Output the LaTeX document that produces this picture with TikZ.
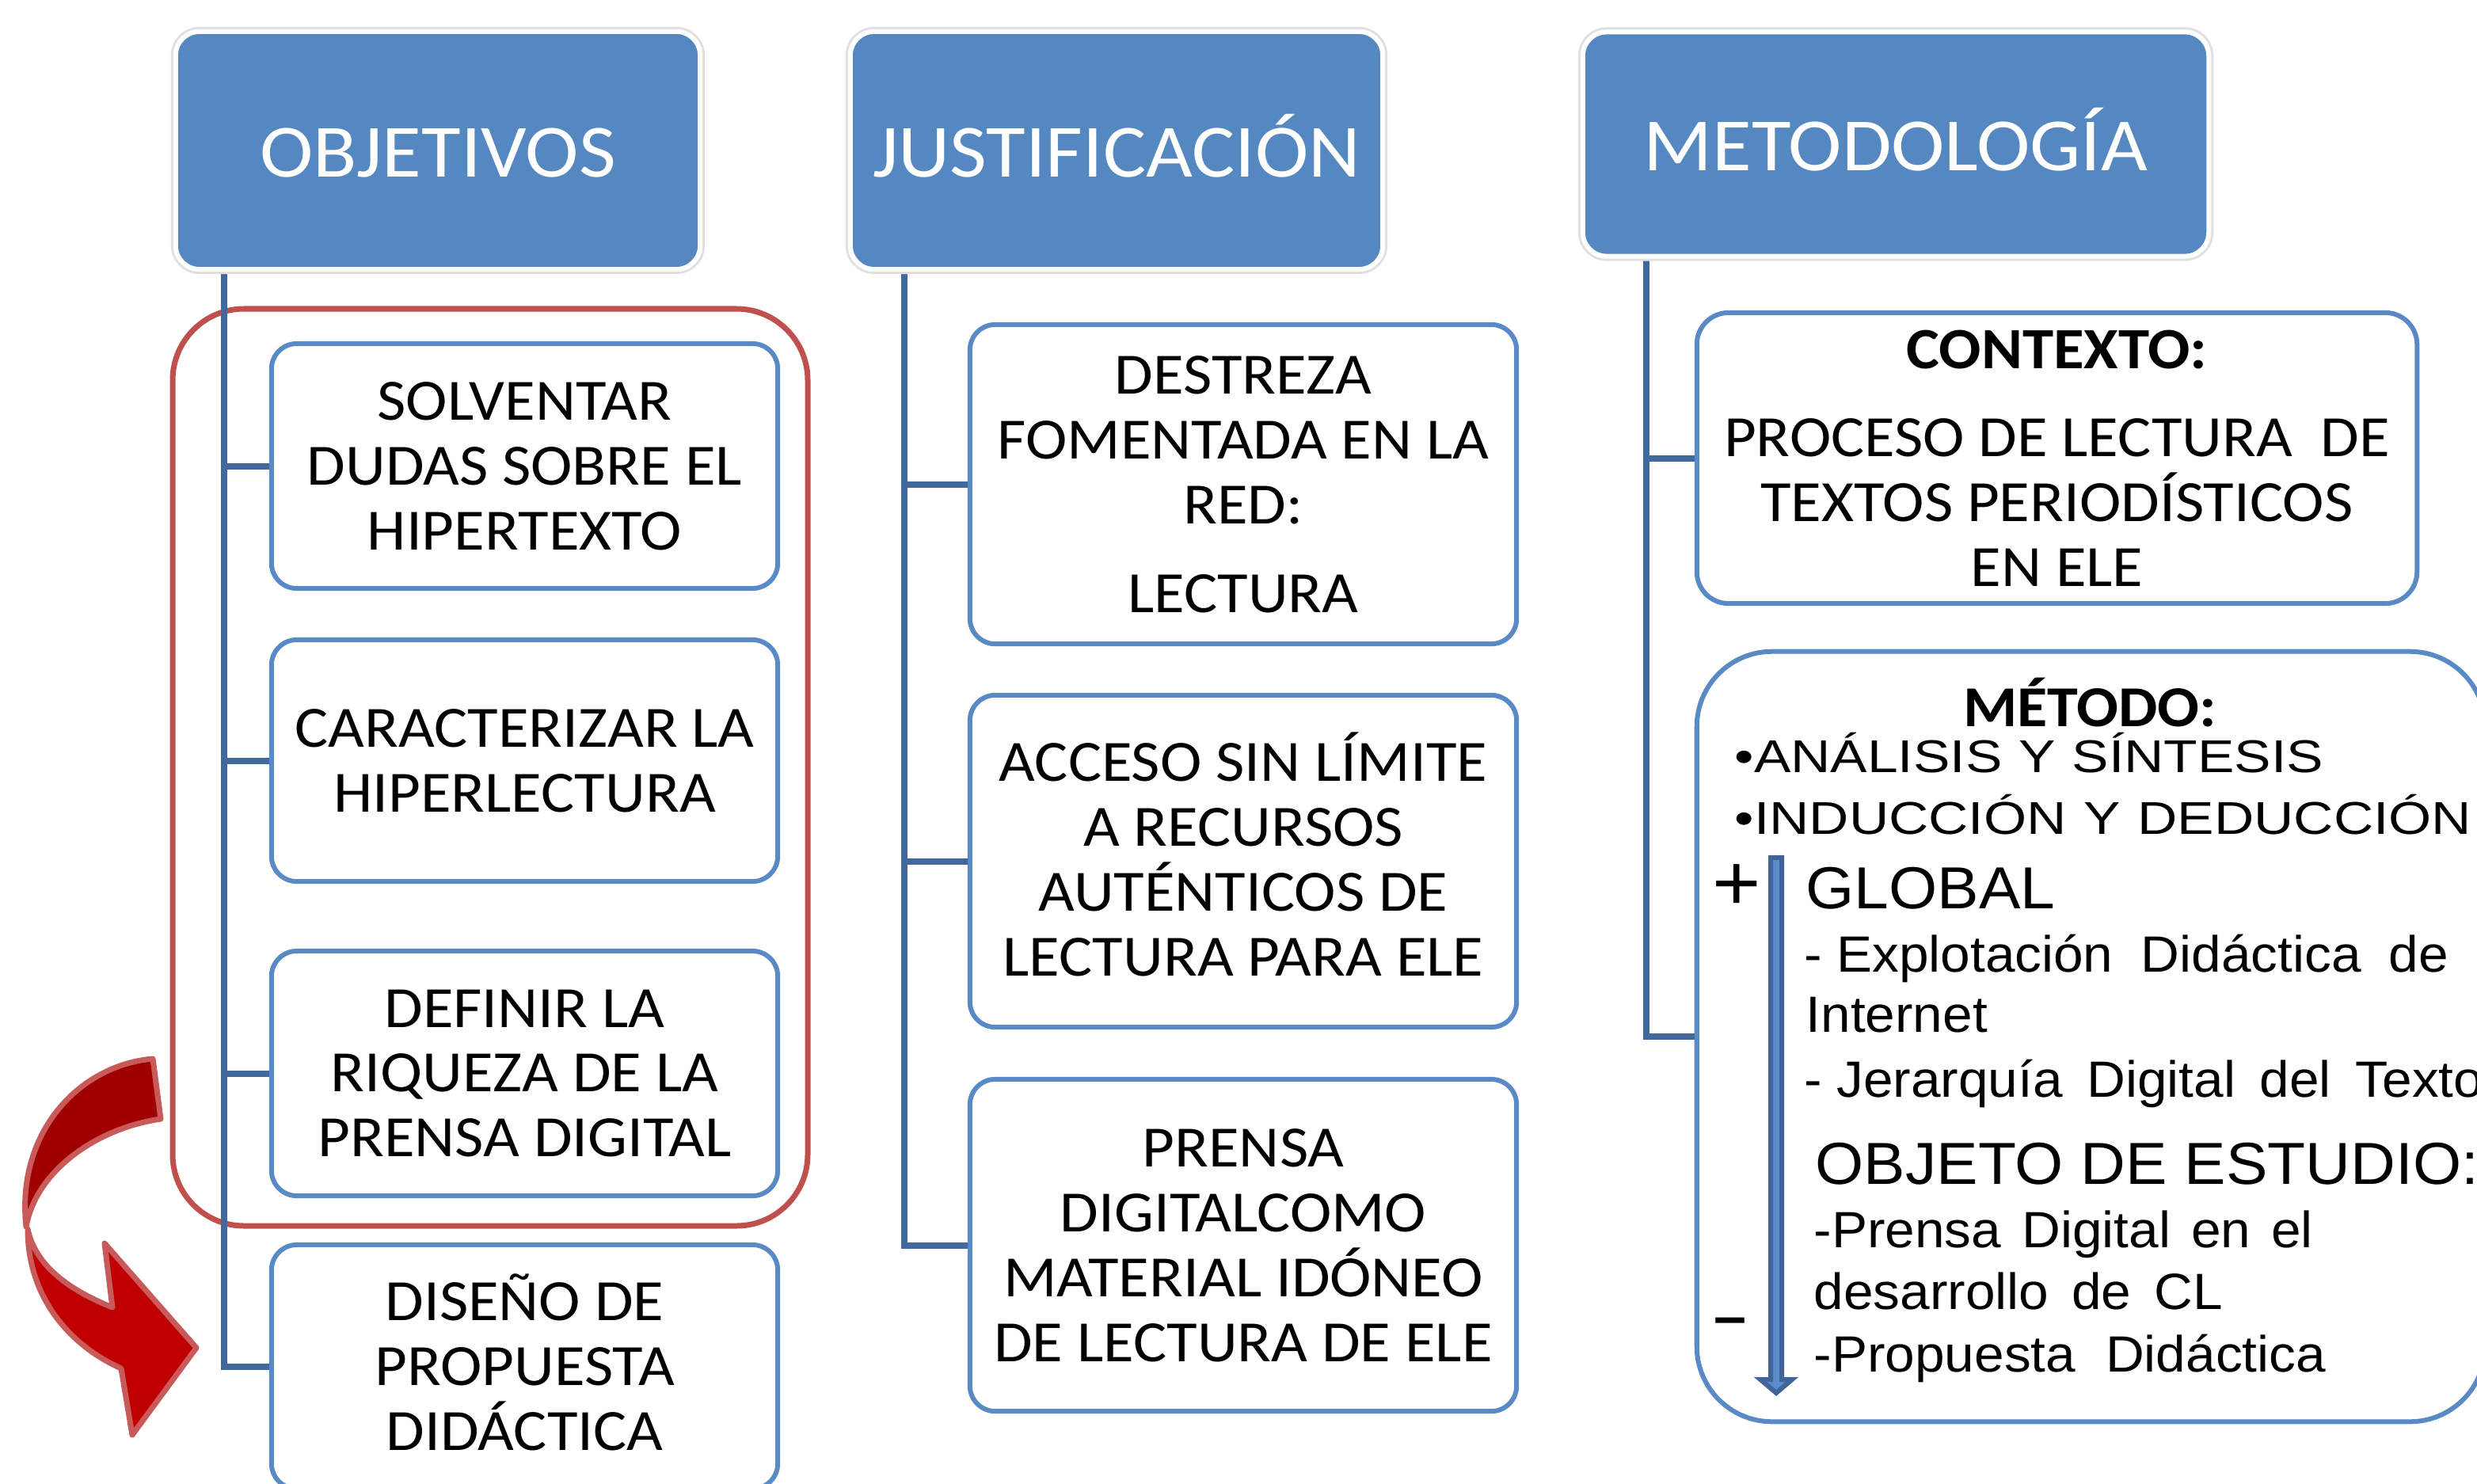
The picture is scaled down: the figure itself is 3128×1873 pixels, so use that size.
\documentclass[tikz,border=0pt]{standalone}
\usepackage{fontspec}
\setmainfont{Carlito}[FakeStretch=1.07]
\newfontfamily\arialfont{Liberation Sans}[FakeStretch=1.05]
\newfontfamily\bulletfont{Liberation Sans}[FakeStretch=1.2]
\definecolor{hdrblue}{HTML}{5588C0}
\definecolor{boxline}{HTML}{5A8AC6}
\definecolor{connblue}{HTML}{41699D}
\definecolor{framered}{HTML}{C0504D}
\definecolor{arrdark}{HTML}{A00000}
\definecolor{arrbright}{HTML}{C00000}
\definecolor{arredge}{HTML}{C85A5A}
\definecolor{marrlight}{HTML}{5B8CCB}
\definecolor{marrdark}{HTML}{41659A}
\begin{document}
\begin{tikzpicture}[x=0.01cm, y=-0.01cm,
  hdr/.style={rectangle, rounded corners=0.3cm, fill=hdrblue, draw=white, line width=0.06cm,
    preaction={draw=black!12, line width=0.12cm}, text=white, text height=0.66cm, text depth=0pt,
    font=\fontsize{27}{30}\selectfont, inner sep=0pt},
  item/.style={rectangle, rounded corners=0.32cm, fill=white, draw=boxline, line width=0.06cm,
    align=center, font=\fontsize{21}{23.3}\selectfont, inner sep=0pt},
  conn/.style={draw=connblue, line width=0.08cm},
  mline/.style={anchor=base west, inner sep=0pt, font=\arialfont\fontsize{18.3}{20}\selectfont},
  mbig/.style={anchor=base west, inner sep=0pt, font=\arialfont\fontsize{21.3}{24}\selectfont},
  mbul/.style={anchor=base west, inner sep=0pt, font=\bulletfont\fontsize{16.5}{19}\selectfont}]
\useasboundingbox (0,0) rectangle (3128,1873);
\clip (0,0) rectangle (3128,1873);
\draw[framered, line width=0.07cm, rounded corners=0.9cm] (218,390) rectangle (1020,1548);
\filldraw[fill=arrdark, draw=arredge, line width=0.07cm, line join=round] (193,1337) .. controls (100,1345) and (20,1430) .. (33,1549) .. controls (45,1480) and (120,1425) .. (203,1413) -- cycle;
\filldraw[fill=arrbright, draw=arredge, line width=0.07cm, line join=round] (35,1552) .. controls (35,1640) and (90,1700) .. (153,1728) -- (167,1812) -- (248,1702) -- (132,1570) -- (142,1651) .. controls (90,1630) and (45,1600) .. (35,1552) -- cycle;
\coordinate (objroot) at (283,344);
\coordinate (justroot) at (1142,344);
\coordinate (metroot) at (2079,327);
\node[item, minimum width=6.39cm, minimum height=3.09cm] (sol) at (662.5,588.5) {SOLVENTAR\\DUDAS SOBRE EL\\HIPERTEXTO};
\node[item, minimum width=6.39cm, minimum height=3.05cm] (car) at (662.5,960.5) {CARACTERIZAR LA\\HIPERLECTURA};
\node[item, minimum width=6.39cm, minimum height=3.09cm] (def) at (662.5,1355.5) {DEFINIR LA\\RIQUEZA DE LA\\PRENSA DIGITAL};
\node[item, minimum width=6.39cm, minimum height=3.08cm] (dis) at (662.5,1726) {DISEÑO DE\\PROPUESTA\\DIDÁCTICA\rule[-0.12cm]{0pt}{0pt}};
\node[item, minimum width=6.9cm, minimum height=4.03cm] (des) at (1570,611.5) {DESTREZA\\FOMENTADA EN LA\\RED:\\[0.3cm]LECTURA};
\node[item, minimum width=6.9cm, minimum height=4.19cm] (acc) at (1570,1087.5) {ACCESO SIN LÍMITE\\A RECURSOS\\AUTÉNTICOS DE\\LECTURA PARA ELE\rule[-0.17cm]{0pt}{0pt}};
\node[item, minimum width=6.9cm, minimum height=4.19cm] (pre) at (1570,1572.5) {PRENSA\\DIGITALCOMO\\MATERIAL IDÓNEO\\DE LECTURA DE ELE};
\node[item, rounded corners=0.4cm, minimum width=9.09cm, minimum height=3.67cm] (ctx) at (2597.5,578.5) {\textbf{CONTEXTO:}\\[0.29cm]PROCESO DE LECTURA\ \ DE\\TEXTOS PERIODÍSTICOS\\EN ELE};
\node[item, rounded corners=0.95cm, minimum width=9.95cm, minimum height=9.72cm] (mtd) at (2640.5,1309) {};
\draw[conn] (objroot) |- (sol.west);
\draw[conn] (objroot) |- (car.west);
\draw[conn] (objroot) |- (def.west);
\draw[conn] (objroot) |- (dis.west);
\draw[conn] (justroot) |- (des.west);
\draw[conn] (justroot) |- (acc.west);
\draw[conn] (justroot) |- (pre.west);
\draw[conn] (metroot) |- (ctx.west);
\draw[conn] (metroot) |- (mtd.west);
\node[hdr, minimum width=6.62cm, minimum height=3.0cm] (obj) at (553,190) {OBJETIVOS};
\node[hdr, minimum width=6.72cm, minimum height=3.0cm] (just) at (1410,190) {JUSTIFICACIÓN};
\node[hdr, minimum width=7.9cm, minimum height=2.83cm] (met) at (2394,182) {METODOLOGÍA};
\node[anchor=base, inner sep=0pt, font=\bfseries\fontsize{20.8}{23.3}\selectfont] (mtitle) at (2639,917) {MÉTODO:};
\node[mbul] (manal) at (2190,975) {\makebox[7.43cm][s]{•ANÁLISIS Y SÍNTESIS}};
\node[mbul] (mind) at (2190,1053) {\makebox[9.3cm][s]{•INDUCCIÓN Y DEDUCCIÓN}};
\node[anchor=base, inner sep=0pt, font=\arialfont\fontsize{28.5}{30}\selectfont] (mplus) at (2193,1149) {+};
\node[anchor=base, inner sep=0pt, font=\arialfont\bfseries\fontsize{20}{22}\selectfont] (mminus) at (2185,1686) {–};
\filldraw[fill=marrlight, draw=marrdark, line width=0.06cm] (2236,1083) -- (2250,1083) -- (2250,1742) -- (2263,1742) -- (2243,1759) -- (2223,1742) -- (2236,1742) -- cycle;
\node[mbig] (mglob) at (2280,1147) {GLOBAL};
\node[mline] (mexp) at (2278,1227) {\makebox[8.13cm][s]{-\hspace{0.28em}Explotación Didáctica de}};
\node[mline] (mint) at (2280,1303) {Internet};
\node[mline] (mjer) at (2278,1385) {\makebox[8.57cm][s]{-\hspace{0.28em}Jerarquía Digital del Texto}};
\node[mbig] (mobj) at (2292,1495) {OBJETO DE ESTUDIO:};
\node[mline] (mpre) at (2290,1575) {\makebox[6.3cm][s]{-Prensa Digital en el}};
\node[mline] (mdes) at (2290,1653) {\makebox[5.16cm][s]{desarrollo de CL}};
\node[mline] (mpro) at (2290,1732) {\makebox[6.46cm][s]{-Propuesta Didáctica}};
\end{tikzpicture}
\end{document}
